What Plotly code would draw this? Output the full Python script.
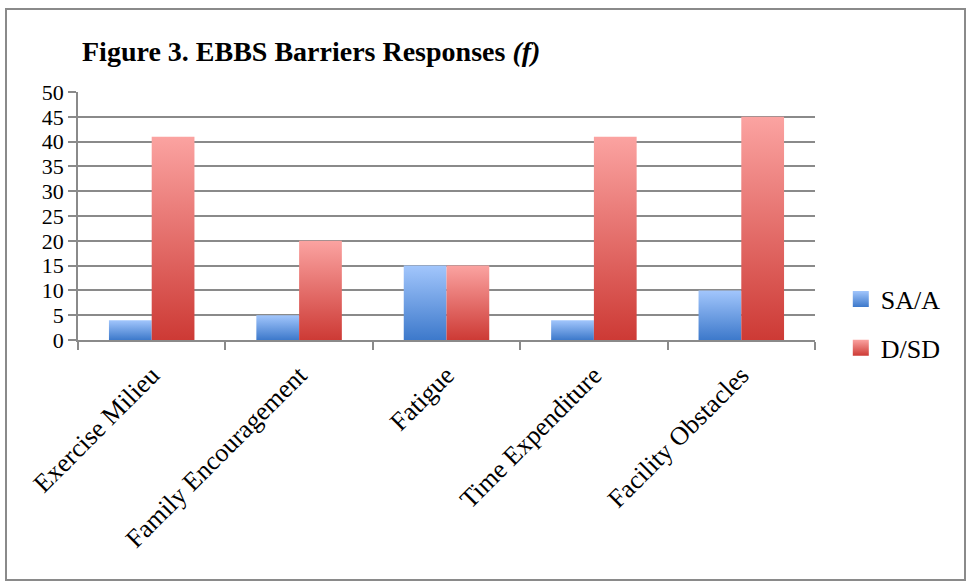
import plotly.graph_objects as go

categories = ["Exercise Milieu", "Family Encouragement", "Fatigue",
              "Time Expenditure", "Facility Obstacles"]
sa_a = [4, 5, 15, 4, 10]
d_sd = [41, 20, 15, 41, 45]
y_ticks = list(range(0, 55, 5))

GRAY = "#8a8a8a"
SERIF = "Liberation Serif"
BAR_W = 0.29  # width of one bar in category units

# (name, values, offset sign, bottom colour, top colour)
series = [
    ("SA/A", sa_a, -1, "#3d79cb", "#a2c6fc"),
    ("D/SD", d_sd, 0, "#cd3a35", "#fba3a1"),
]

fig = go.Figure()
for name, vals, side, dark, light in series:
    for i, v in enumerate(vals):
        x0 = i + side * BAR_W
        x1 = x0 + BAR_W
        fig.add_trace(go.Scatter(
            x=[x0, x1, x1, x0, x0], y=[0, 0, v, v, 0],
            fill="toself", mode="lines", line=dict(width=0),
            fillgradient=dict(type="vertical",
                              colorscale=[[0, dark], [1, light]]),
            hoverinfo="skip", showlegend=False, legendgroup=name,
        ))
    # legend entry with a gradient swatch
    fig.add_trace(go.Scatter(
        x=[None], y=[None], mode="markers", name=name, legendgroup=name,
        marker=dict(symbol="square", size=16, color=light,
                    gradient=dict(type="vertical", color=dark),
                    line=dict(width=0)),
    ))

fig.update_layout(
    width=968, height=582,
    margin=dict(l=78, r=153, t=92, b=242),
    paper_bgcolor="white", plot_bgcolor="white",
    title=dict(
        text="<b>Figure 3. EBBS Barriers Responses <i>(f)</i></b>",
        font=dict(family=SERIF, size=28, color="black"),
        xref="container", x=82 / 968, xanchor="left",
        yref="container", y=1 - 51 / 582, yanchor="middle",
    ),
    xaxis=dict(
        range=[-0.5, 4.5], tickmode="array",
        tickvals=list(range(len(categories))), ticktext=categories,
        ticks="", tickangle=-45, ticklabelstandoff=8,
        tickfont=dict(family=SERIF, size=26, color="black"),
        showline=True, linecolor=GRAY, linewidth=1.5,
        showgrid=False, zeroline=False,
        minor=dict(tickmode="array",
                   tickvals=[i - 0.5 for i in range(len(categories) + 1)],
                   ticks="outside", ticklen=8, tickwidth=1.5,
                   tickcolor=GRAY, showgrid=False),
    ),
    yaxis=dict(
        range=[0, 50], tickmode="array", tickvals=y_ticks,
        ticks="outside", ticklen=8, tickwidth=1.5, tickcolor=GRAY,
        tickfont=dict(family=SERIF, size=22, color="black"),
        showline=True, linecolor=GRAY, linewidth=1.5,
        showgrid=True, gridcolor=GRAY, gridwidth=1.5, zeroline=False,
    ),
    legend=dict(
        x=1.035, xanchor="left", y=0.26, yanchor="top",
        font=dict(family=SERIF, size=26, color="black"),
        tracegroupgap=12, bgcolor="rgba(0,0,0,0)",
    ),
    showlegend=True,
)

# outer frame around the whole chart
fig.add_shape(type="rect", xref="paper", yref="paper",
              x0=(6 - 78) / 737, x1=(965 - 78) / 737,
              y0=(340 - 580) / 248, y1=(340 - 9) / 248,
              line=dict(color=GRAY, width=2), layer="below")

fig.write_html("out.html")
